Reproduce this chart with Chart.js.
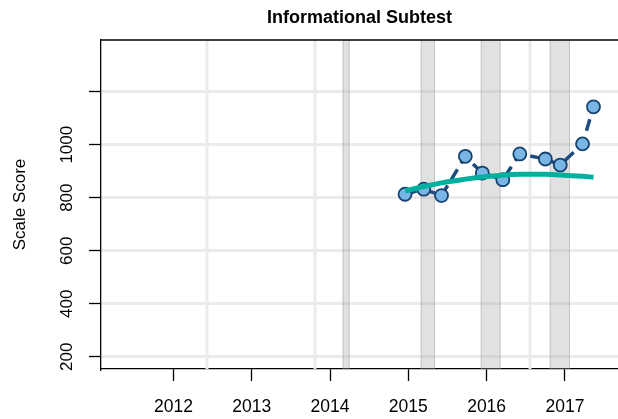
<!DOCTYPE html>
<html>
<head>
<meta charset="utf-8">
<script src="https://cdn.jsdelivr.net/npm/chart.js@4/dist/chart.umd.min.js"></script>
<style>
html, body { margin: 0; padding: 0; background: #fff; }
#wrap { position: relative; width: 618px; height: 419px; }
</style>
</head>
<body>
<div id="wrap"><canvas id="grafico"></canvas></div>
<script>
// dados
const datasTeste = [2014.958, 2015.197, 2015.424, 2015.728, 2015.945, 2016.207, 2016.424, 2016.750, 2016.941, 2017.225, 2017.365];
const notas      = [813, 832, 808, 956, 893, 868, 965, 946, 923, 1003, 1143];
const tendencia  = [826, 842, 856, 870, 878, 885, 888, 888, 886, 881, 877];
const anosTicks  = [2012, 2013, 2014, 2015, 2016, 2017];
const notasTicks = [200, 400, 600, 800, 1000, 1200];
const notasRotulos = [200, 400, 600, 800, 1000];
const faixasInicio = [2014.16, 2015.158, 2015.925, 2016.806];
const faixasFim    = [2014.25, 2015.341, 2016.180, 2017.065];
const separadores  = [2012.429, 2013.808, 2016.554];

const FONTE = '"Liberation Sans", Arial, Helvetica, sans-serif';
const CORES = {
    ponto: '#79b6e6',
    borda: '#17426f',
    linha: '#1b4b7f',
    tend: '#00b09e',
    grade: '#ebebeb',
    faixa: 'rgba(170,170,170,0.35)',
    faixaBorda: 'rgba(140,140,140,0.35)'
};

const extras = {
    id: 'extras',
    beforeDatasetsDraw(chart) {
        const { ctx, chartArea: a, scales: { x } } = chart;
        ctx.save();
        ctx.beginPath();
        ctx.rect(a.left, a.top, a.right - a.left, a.bottom - a.top);
        ctx.clip();
        ctx.strokeStyle = CORES.grade;
        ctx.lineWidth = 3;
        separadores.forEach(v => {
            const px = x.getPixelForValue(v);
            ctx.beginPath(); ctx.moveTo(px, a.top); ctx.lineTo(px, a.bottom); ctx.stroke();
        });
        faixasInicio.forEach((ini, i) => {
            const x0 = x.getPixelForValue(ini), x1 = x.getPixelForValue(faixasFim[i]);
            ctx.fillStyle = CORES.faixa;
            ctx.fillRect(x0, a.top, x1 - x0, a.bottom - a.top);
            ctx.strokeStyle = CORES.faixaBorda;
            ctx.lineWidth = 1;
            ctx.beginPath();
            ctx.moveTo(x0 + 0.5, a.top); ctx.lineTo(x0 + 0.5, a.bottom);
            ctx.moveTo(x1 - 0.5, a.top); ctx.lineTo(x1 - 0.5, a.bottom);
            ctx.stroke();
        });
        ctx.restore();
    },
    afterDraw(chart) {
        const { ctx, chartArea: a, scales: { y } } = chart;
        ctx.save();
        // linha superior da caixa
        ctx.strokeStyle = '#000';
        ctx.lineWidth = 1.3;
        ctx.beginPath(); ctx.moveTo(a.left, a.top); ctx.lineTo(a.right, a.top); ctx.stroke();
        ctx.fillStyle = '#000';
        // rotulos do eixo y, girados
        ctx.font = '17px ' + FONTE;
        ctx.textAlign = 'center';
        ctx.textBaseline = 'middle';
        notasRotulos.forEach(v => {
            ctx.save();
            ctx.translate(67, y.getPixelForValue(v));
            ctx.rotate(-Math.PI / 2);
            ctx.fillText(String(v), 0, 0);
            ctx.restore();
        });
        ctx.save();
        ctx.translate(20, (a.top + a.bottom) / 2);
        ctx.rotate(-Math.PI / 2);
        ctx.fillText('Scale Score', 0, 0);
        ctx.restore();
        // titulo
        ctx.font = 'bold 18px ' + FONTE;
        ctx.textBaseline = 'alphabetic';
        ctx.fillText('Informational Subtest', (a.left + a.right) / 2, 23);
        ctx.restore();
    }
};

new Chart(document.getElementById('grafico'), {
    type: 'line',
    data: {
        datasets: [
            {
                data: datasTeste.map((d, i) => ({ x: d, y: tendencia[i] })),
                borderColor: CORES.tend,
                borderWidth: 5,
                pointRadius: 0,
                tension: 0.4,
                fill: false
            },
            {
                data: datasTeste.map((d, i) => ({ x: d, y: notas[i] })),
                borderColor: CORES.linha,
                borderWidth: 3.5,
                borderDash: [12, 7],
                pointRadius: 6.5,
                pointBackgroundColor: CORES.ponto,
                pointBorderColor: CORES.borda,
                pointBorderWidth: 1.8,
                tension: 0,
                fill: false
            }
        ]
    },
    options: {
        responsive: true,
        maintainAspectRatio: false,
        animation: false,
        devicePixelRatio: 1,
        layout: { autoPadding: false, padding: { top: 40, right: 0, bottom: 0, left: 0 } },
        plugins: {
            legend: { display: false },
            tooltip: { enabled: false },
            title: { display: false }
        },
        scales: {
            x: {
                type: 'linear',
                min: 2011.075,
                max: 2017.678,
                afterBuildTicks: s => { s.ticks = anosTicks.map(v => ({ value: v })); },
                afterFit: s => { s.height = 50; s.paddingLeft = 0; s.paddingRight = 0; },
                ticks: {
                    autoSkip: false,
                    maxRotation: 0,
                    padding: 16,
                    color: '#000',
                    font: { family: FONTE, size: 17.5 },
                    callback: v => String(v)
                },
                grid: { drawOnChartArea: false, tickLength: 12, tickColor: '#000', tickWidth: 1.3 },
                border: { display: true, color: '#000', width: 1.3 }
            },
            y: {
                type: 'linear',
                min: 153.6,
                max: 1395,
                afterBuildTicks: s => { s.ticks = notasTicks.map(v => ({ value: v })); },
                afterFit: s => { s.width = 101; s.paddingTop = 0; s.paddingBottom = 0; },
                ticks: { display: false },
                grid: { color: CORES.grade, lineWidth: 3, tickLength: 12, tickColor: '#000', tickWidth: 1.3 },
                border: { display: true, color: '#000', width: 1.3 }
            }
        }
    },
    plugins: [extras]
});
</script>
</body>
</html>
